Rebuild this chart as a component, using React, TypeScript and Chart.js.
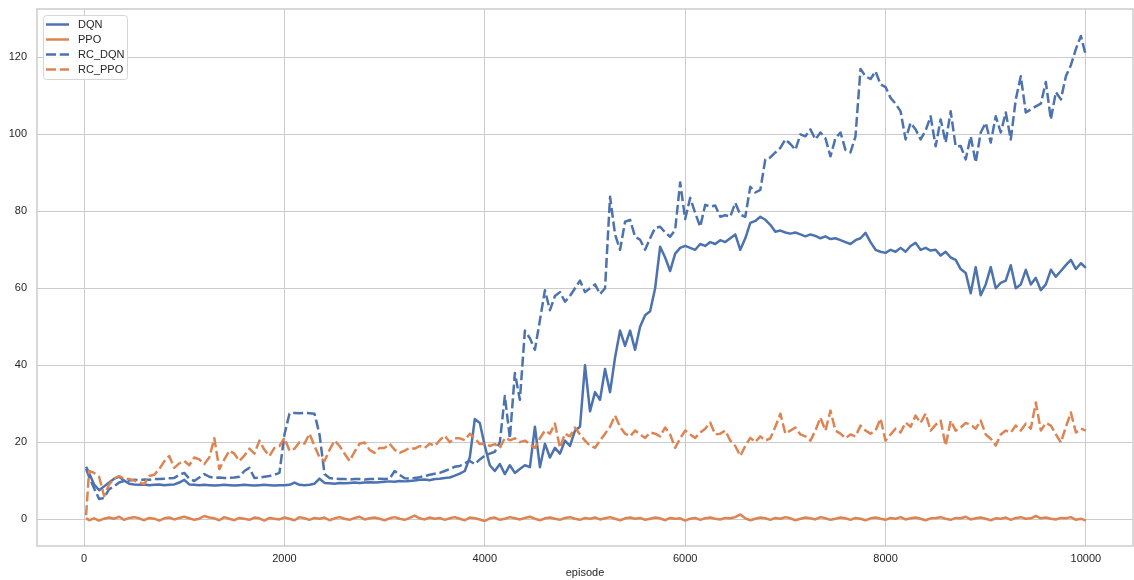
import React, { useEffect, useRef } from "react";
import { Chart, registerables } from "chart.js";

Chart.register(...registerables);

// ---------- data ----------
const seriesNames = ["DQN", "PPO", "RC_DQN", "RC_PPO"];
// first sample at episode 20, then every 50 episodes up to 10000
const episodes = [20, ...Array.from({ length: 200 }, (_, i) => (i + 1) * 50)];
const xTicks = [0, 2000, 4000, 6000, 8000, 10000];
const yTicks = [0, 20, 40, 60, 80, 100, 120];

const dqn = [
  13.6,
  12, 9, 7.5, 8.5, 9.5, 10.5, 11, 10, 9.2, 9,
  8.9, 9, 8.8, 8.9, 9, 8.8, 8.9, 9, 9.5, 10.2,
  9, 8.9, 8.8, 8.9, 8.8, 8.7, 8.8, 8.9, 8.8, 8.7,
  8.8, 8.9, 8.8, 8.7, 8.8, 8.9, 8.8, 8.7, 8.8, 8.8,
  8.9, 9.5, 8.9, 8.8, 8.9, 9.2, 10.5, 9.4, 9.3, 9.2,
  9.4, 9.3, 9.4, 9.5, 9.4, 9.5, 9.6, 9.5, 9.6, 9.7,
  9.8, 9.7, 9.9, 9.8, 9.9, 10, 10.2, 10.3, 10.1, 10.4,
  10.5, 10.7, 10.8, 11.3, 11.8, 12.5, 16, 26, 25, 19,
  14, 12.5, 14.3, 11.7, 14, 12, 13, 14, 13.5, 24,
  13.5, 19.6, 16, 18.5, 17, 20.4, 19, 23, 24, 40,
  28, 33, 31, 39, 33, 42, 49, 45, 49, 44,
  50, 53, 54, 60, 70.8, 68, 64.5, 69, 70.5, 71,
  70.5, 70, 71.5, 71, 72, 71.5, 72.5, 72, 73, 74,
  70, 73, 77, 77.5, 78.6, 77.8, 76.5, 74.7, 75, 74.5,
  74.2, 74.5, 74, 73.5, 74, 73.6, 73, 73.5, 72.8, 73,
  72.5, 72, 71.5, 72.5, 73, 74.4, 72, 70, 69.5, 69.2,
  70, 69.5, 70.5, 69.5, 71, 71.8, 70, 70.5, 69.8, 70,
  68.5, 69.5, 68, 67.4, 65, 64, 58.7, 65.5, 58.2, 61,
  65.5, 60, 61.4, 62, 66, 60, 61, 64.8, 61, 62.7,
  59.5, 61, 64.8, 63, 64.5, 66, 67.4, 65, 66.5, 65.3,
];

const ppo = [
  0.3,
  -0.3, 0.2, -0.4, 0.1, 0.4, 0.1, 0.6, -0.2, 0.3, 0.5,
  0.2, -0.3, 0.3, 0.1, -0.4, 0.2, 0.4, -0.1, 0.3, 0.6,
  0.2, -0.2, 0.1, 0.8, 0.4, 0.2, -0.3, 0.5, 0.1, -0.3,
  0.3, 0.1, -0.2, 0.4, 0.2, -0.4, 0.3, 0.1, -0.1, 0.4,
  0.1, -0.3, 0.5, 0.2, -0.2, 0.3, 0.1, 0.4, -0.3, 0.2,
  0.5, 0.1, -0.2, 0.3, 0.6, -0.1, 0.2, 0.4, 0.1, -0.3,
  0.2, 0.5, 0.1, -0.2, 0.3, 0.9, 0.2, -0.1, 0.4, 0.1,
  0.3, -0.2, 0.2, 0.5, 0.1, -0.3, 0.4, 0.2, -0.1, -0.5,
  0.2, 0.4, -0.2, 0.1, 0.5, 0.2, -0.1, 0.3, 0.6, 0.1,
  -0.3, 0.2, 0.4, 0.1, -0.2, 0.3, 0.5, 0.1, -0.2, 0.3,
  0.1, 0.4, -0.1, 0.2, 0.5, 0.1, -0.3, 0.2, 0.4, 0.1,
  0.3, -0.2, 0.1, 0.4, 0.2, -0.3, 0.3, 0.1, 0.2, -0.4,
  0.1, 0.3, -0.2, 0.2, 0.4, 0.1, -0.1, 0.3, 0.2, 0.5,
  1.2, 0.2, -0.3, 0.1, 0.4, 0.2, -0.2, 0.3, 0.1, 0.5,
  0.2, -0.3, 0.1, 0.4, 0.2, -0.1, 0.5, 0.2, -0.2, 0.1,
  0.4, 0.2, -0.2, 0.3, 0.1, -0.3, 0.2, 0.4, 0.1, -0.2,
  0.3, 0.1, 0.5, -0.1, 0.2, 0.4, 0.1, -0.3, 0.2, 0.3,
  0.5, 0.1, -0.2, 0.3, 0.2, 0.6, -0.1, 0.2, 0.4, 0.1,
  -0.3, 0.2, 0.1, 0.4, -0.2, 0.3, 0.5, 0.1, 0.2, 0.8,
  0.2, 0.4, 0.1, -0.1, 0.3, 0.2, 0.5, -0.2, 0.1, -0.4,
];

const rcDqn = [
  13,
  11, 8, 5.2, 5.5, 7.8, 8.5, 9.5, 9.9, 10, 10.2,
  10.1, 10.3, 10.2, 10.4, 10.4, 10.5, 10.6, 10.7, 11.5, 12,
  10.5, 9.9, 10.8, 11.7, 11, 10.7, 10.8, 10.7, 10.7, 10.8,
  11, 12.5, 13.3, 10.7, 10.8, 11, 11.2, 11.5, 12, 22,
  27.4, 27.6, 27.5, 27.6, 27.5, 27.4, 22, 11.7, 10.7, 10.5,
  10.4, 10.4, 10.3, 10.4, 10.4, 10.3, 10.4, 10.4, 10.5, 10.4,
  10.5, 12.5, 11.5, 10.6, 10.5, 10.7, 10.9, 11.2, 11.5, 11.8,
  12, 12.5, 13, 13.6, 13.8, 14.5, 15.1, 14.3, 15.5, 16.5,
  17, 17.5, 20, 32, 21, 38, 31, 49, 47, 44,
  51.7, 59.5, 54.3, 58, 59, 56.5, 58, 60, 62, 59,
  60, 61, 58.5, 60, 83.8, 74, 70, 77.3, 77.8, 73.4,
  72.6, 70, 73, 75.7, 76, 74.5, 73.4, 75.2, 87.5, 78,
  83.5, 79.6, 76, 81.7, 81.2, 81.5, 78.6, 79, 78.6, 82.2,
  79.1, 78.6, 86.4, 84.9, 85.6, 93.5, 94, 95.3, 96.5, 98.7,
  97.5, 96, 100, 99.5, 101.3, 98.7, 100.5, 99, 94.3, 99,
  100.5, 96, 95.3, 99.5, 117, 115.1, 114.4, 116.4, 113, 112.3,
  109.5, 108, 106, 98.7, 103, 101.3, 98.7, 101, 104.7, 96.9,
  103.9, 97.9, 106, 96.9, 97, 93.5, 99.5, 92.7, 100.5, 103,
  97.9, 104.7, 100.5, 105.7, 98.7, 109.1, 115.1, 105.7, 106.5, 107.3,
  108, 113.6, 103.9, 111, 109.1, 115.1, 118, 122.2, 125.6, 120.4,
];

const rcPpo = [
  1,
  12.5, 12, 11, 6, 9, 10.5, 11.2, 10.5, 10.4, 10,
  9.5, 9.1, 11.2, 11.5, 13, 15, 16.4, 13.3, 14.5, 15.1,
  14, 16, 15.5, 14.3, 16, 21, 13, 15.5, 17.8, 17,
  15.1, 16.5, 18.3, 17, 20.4, 18, 16.4, 18.5, 19, 21.1,
  17.8, 18.3, 20, 19.6, 22.2, 19, 16, 15.1, 18, 20.4,
  19, 17, 15.1, 17.5, 19.6, 19.9, 18, 17.2, 18.5, 18.5,
  19.6, 18, 17.2, 17.8, 18.5, 18.3, 19, 18.5, 19.6, 19,
  20.5, 21.7, 20, 21, 21, 20.5, 22.2, 21, 19.5, 19.6,
  19, 19.5, 18.5, 21.1, 20.5, 21, 20, 20.4, 19.5, 18.5,
  21, 23, 22.2, 24.8, 18.5, 22.2, 21.5, 23.8, 22, 20.4,
  19.1, 18.5, 20.4, 22.2, 24, 26.9, 24, 22.2, 21.5, 23,
  22, 21.1, 22.5, 22.2, 21.5, 23.8, 22, 18.5, 21, 23,
  22, 21.1, 22.5, 23.5, 25.1, 22, 22.2, 23, 20.4, 19,
  16.4, 19, 21.1, 20, 21.5, 20.4, 21, 24, 27.4, 22.2,
  23, 23.8, 22, 21.5, 20.4, 23, 26.4, 23, 28.2, 23,
  22.2, 21, 22, 21.5, 24.3, 23, 22.2, 23, 26.1, 20.4,
  22, 23.5, 22.5, 25.1, 24, 26.9, 25, 27.4, 23, 24.5,
  25.6, 19.1, 25.6, 23, 23.8, 25, 24.5, 23.5, 25.6, 22,
  20.9, 19.1, 22, 23, 22.5, 24.3, 23, 24.8, 23.5, 30.3,
  23, 25, 24.3, 22, 19.9, 24, 27.7, 22.5, 23.5, 23,
];

// ---------- style ----------
const BLUE = "#4c72b0";
const ORANGE = "#dd8452";
const GRID = "#cccccc";
const TEXT = "#262626";
const FONT = "'Liberation Sans', Arial, sans-serif";
const LW = 2.5;
const DASH = [10, 3.75];

const seriesValues = [dqn, ppo, rcDqn, rcPpo];
const seriesColors = [BLUE, ORANGE, BLUE, ORANGE];
const seriesDashed = [false, false, true, true];

const framePlugin = {
  id: "frame",
  beforeDatasetsDraw(chart: any) {
    const { ctx, chartArea: a } = chart;
    ctx.save();
    ctx.strokeStyle = GRID;
    ctx.lineWidth = 1.5;
    ctx.strokeRect(a.left, a.top, a.right - a.left, a.bottom - a.top);
    ctx.restore();
  },
};

const legendPlugin = {
  id: "boxLegend",
  afterDraw(chart: any) {
    const { ctx, chartArea: a } = chart;
    const x0 = a.left + 6;
    const y0 = a.top + 6;
    const w = 84;
    const h = 64;
    ctx.save();
    ctx.fillStyle = "rgba(255,255,255,0.85)";
    ctx.strokeStyle = "#d6d6d6";
    ctx.lineWidth = 1;
    ctx.beginPath();
    if ((ctx as any).roundRect) (ctx as any).roundRect(x0 + 0.5, y0 + 0.5, w, h, 3);
    else ctx.rect(x0 + 0.5, y0 + 0.5, w, h);
    ctx.fill();
    ctx.stroke();
    ctx.font = `11px ${FONT}`;
    ctx.textBaseline = "middle";
    seriesNames.forEach((name, i) => {
      const y = y0 + 9.5 + i * 15;
      ctx.strokeStyle = seriesColors[i];
      ctx.lineWidth = LW;
      ctx.setLineDash(seriesDashed[i] ? DASH : []);
      ctx.lineCap = "butt";
      ctx.beginPath();
      ctx.moveTo(x0 + 3, y);
      ctx.lineTo(x0 + 26, y);
      ctx.stroke();
      ctx.setLineDash([]);
      ctx.fillStyle = TEXT;
      ctx.fillText(name, x0 + 35, y + 0.5);
    });
    ctx.restore();
  },
};

export default function App() {
  const ref = useRef<HTMLCanvasElement | null>(null);

  useEffect(() => {
    if (!ref.current) return;
    const datasets = seriesNames.map((name, i) => ({
      label: name,
      data: episodes.map((e, j) => ({ x: e, y: seriesValues[i][j] })),
      borderColor: seriesColors[i],
      backgroundColor: seriesColors[i],
      borderWidth: LW,
      borderDash: seriesDashed[i] ? DASH : [],
      borderJoinStyle: "round" as const,
      pointRadius: 0,
      tension: 0,
      fill: false,
      order: 4 - i,
    }));

    const chart = new Chart(ref.current, {
      type: "line",
      data: { datasets },
      options: {
        animation: false,
        responsive: true,
        maintainAspectRatio: false,
        layout: { padding: { top: 9, right: 1, left: 0, bottom: 0 } },
        plugins: {
          legend: { display: false },
          tooltip: { enabled: false },
        },
        scales: {
          x: {
            type: "linear",
            min: -470,
            max: 10470,
            afterBuildTicks: (s: any) => {
              s.ticks = xTicks.map((v) => ({ value: v }));
            },
            afterFit: (s: any) => {
              s.height = 34;
              s.paddingLeft = 0;
              s.paddingRight = 0;
            },
            grid: { color: GRID, lineWidth: 1, drawTicks: false },
            border: { display: false },
            ticks: {
              color: TEXT,
              font: { size: 11, family: FONT },
              padding: 6,
              maxRotation: 0,
              autoSkip: false,
              callback: (v: any) => String(v),
            },
            title: {
              display: true,
              text: "episode",
              color: TEXT,
              font: { size: 11, family: FONT },
              padding: { top: 0, bottom: 0 },
            },
          },
          y: {
            type: "linear",
            min: -7,
            max: 132.6,
            afterBuildTicks: (s: any) => {
              s.ticks = yTicks.map((v) => ({ value: v }));
            },
            afterFit: (s: any) => {
              s.width = 37;
              s.paddingTop = 0;
              s.paddingBottom = 0;
            },
            grid: { color: GRID, lineWidth: 1, drawTicks: false },
            border: { display: false },
            ticks: {
              color: TEXT,
              font: { size: 11, family: FONT },
              padding: 10,
              autoSkip: false,
              callback: (v: any) => String(v),
            },
          },
        },
      },
      plugins: [framePlugin, legendPlugin],
    });
    return () => chart.destroy();
  }, []);

  return (
    <div style={{ position: "absolute", left: 0, top: 0, width: 1134, height: 580, background: "#fff" }}>
      <canvas ref={ref} />
    </div>
  );
}
